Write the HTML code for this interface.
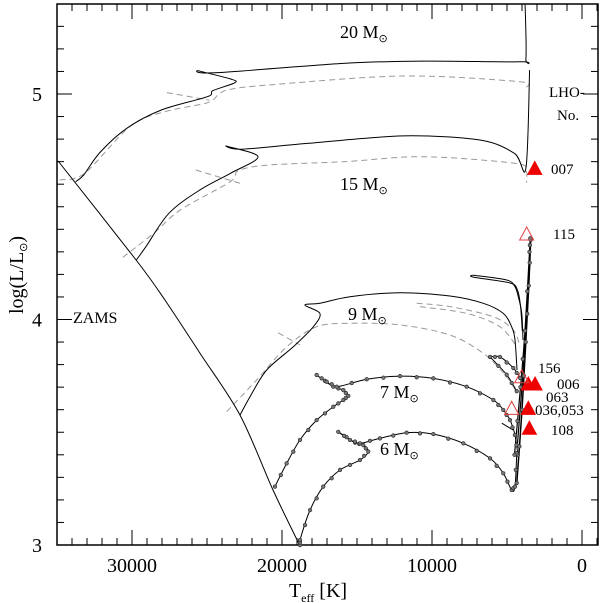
<!DOCTYPE html>
<html><head><meta charset="utf-8"><style>
html,body{margin:0;padding:0;background:#fff}
svg{display:block;font-family:"Liberation Serif",serif}
</style></head><body>
<svg id="c" width="600" height="603" viewBox="0 0 600 603"></svg>
<script>
const xTicks=[30000,20000,10000,0];
const xTickLabels=["30000","20000","10000","0"];
const yTicks=[3,4,5];
const yTickLabels=["3","4","5"];
const zams=[[34930,4.703],[29730,4.264],[27800,4.086],[25470,3.851],[22800,3.576],[20600,3.244],[18930,3.013],[18870,3.0]];
const m20=[[33760,4.611],[33220,4.641],[32150,4.740],[30350,4.848],[28050,4.929],[24980,4.988],[24600,5.015],[23140,5.050],[23450,5.067],[25550,5.103],[24470,5.094],[15770,5.136],[10650,5.146],[4120,5.143],[3740,5.158],[3790,5.396]];
const m20d=[[34830,4.619],[33170,4.648],[30100,4.858],[27800,4.922],[24980,4.961],[24200,5.0],[23500,5.02],[20890,5.040],[11930,5.080],[4250,5.055],[3690,5.030]];
const m20dx=[[27670,5.006],[24850,4.973]];
const m15=[[29710,4.264],[29070,4.323],[27540,4.471],[25490,4.574],[23450,4.648],[21600,4.722],[23700,4.769],[22680,4.755],[18330,4.781],[11930,4.814],[6810,4.796],[4510,4.737],[3740,4.671],[3490,5.106]];
const m15d=[[30610,4.276],[28560,4.382],[26770,4.486],[23450,4.611],[22900,4.66],[20890,4.685],[15770,4.700],[10650,4.722],[4510,4.693],[3740,4.663],[3690,4.607]];
const m15dx=[[25750,4.663],[22600,4.600]];
const m9=[[22800,3.576],[22130,3.658],[21020,3.776],[19250,3.879],[17910,3.968],[17470,4.027],[18470,4.064],[17470,4.072],[15470,4.101],[12130,4.119],[8800,4.104],[6580,4.072],[5250,4.027],[4690,3.968],[4470,3.909],[4330,3.776]];
const m9loopA=[[7290,4.197],[5020,4.175],[4470,4.145],[4250,4.101],[4020,4.029],[3930,3.909]];
const m9loopB=[[7290,4.197],[7250,4.188],[4800,4.162],[4300,4.13],[4100,4.06],[3980,3.95]];
const m9d=[[23690,3.591],[21690,3.732],[19690,3.879],[17690,3.968],[15470,3.983],[12130,3.976],[8800,3.931],[6580,3.850],[5020,3.746],[4350,3.673]];
const m9dx=[[20250,3.941],[18800,3.887]];
const m9d2=[[11020,4.072],[8800,4.057],[5910,4.012],[4580,3.953],[4130,3.879]];
const m9d3=[[10800,4.057],[7690,4.027],[5470,3.968],[4350,3.879]];
const m7=[[20470,3.259],[19690,3.362],[18800,3.466],[17690,3.554],[16580,3.613],[15910,3.643],[15580,3.661],[15910,3.687],[16580,3.702],[17690,3.754],[17020,3.724],[16350,3.702],[14350,3.735],[12130,3.749],[9910,3.739],[7690,3.702],[5910,3.643],[5250,3.599],[4800,3.554],[4470,3.488],[4270,3.399]];
const m7loop=[[6130,3.834],[5470,3.834],[4580,3.785],[4130,3.741]];
const m7loop2=[[6130,3.834],[5020,3.755],[4350,3.682]];
const m7loop3=[[5350,3.540],[4600,3.510]];
const m6=[[18800,3.0],[18800,3.022],[18130,3.155],[17250,3.259],[16130,3.333],[14800,3.377],[14250,3.414],[14580,3.443],[15130,3.454],[16250,3.502],[15470,3.466],[14800,3.451],[13470,3.473],[11690,3.498],[9910,3.492],[7910,3.451],[6130,3.384],[5250,3.318],[4690,3.244],[4470,3.259],[4350,3.407]];
const rgb1=[[4350,3.275],[4000,3.6],[3750,3.9],[3550,4.15],[3420,4.353]];
const rgb2=[[4500,3.4],[4100,3.7],[3800,3.95],[3500,4.3],[3450,4.36]];
const rgb3=[[4300,3.45],[3950,3.75],[3650,4.05],[3480,4.25]];
const starsFilled=[[3150,4.670],[3580,3.714],[3130,3.714],[3580,3.606],[3510,3.518]];
const starsOpen=[[3690,4.379],[4020,3.746],[4690,3.606]];

const S=document.getElementById('c');
const NS='http://www.w3.org/2000/svg';
const X0=57,X1=598,Y0=4,Y1=545;
function px(t){return 582-0.015*t;}
function py(l){return 545-225.5*(l-3);}
function mk(tag,a){const e=document.createElementNS(NS,tag);for(const k in a)e.setAttribute(k,a[k]);S.appendChild(e);return e;}
function smoothPath(data){
  const p=data.map(d=>[px(d[0]),py(d[1])]);
  let s='M'+p[0][0].toFixed(1)+','+p[0][1].toFixed(1);
  const k=0.16;
  for(let i=0;i<p.length-1;i++){
    const p0=p[i-1]||p[i],p1=p[i],p2=p[i+1],p3=p[i+2]||p[i+1];
    const c1=[p1[0]+(p2[0]-p0[0])*k,p1[1]+(p2[1]-p0[1])*k];
    const c2=[p2[0]-(p3[0]-p1[0])*k,p2[1]-(p3[1]-p1[1])*k];
    s+=' C'+c1[0].toFixed(1)+','+c1[1].toFixed(1)+' '+c2[0].toFixed(1)+','+c2[1].toFixed(1)+' '+p2[0].toFixed(1)+','+p2[1].toFixed(1);
  }
  return s;
}
function line(data,name,dash,col,w){
  const e=mk('path',{d:smoothPath(data),fill:'none',stroke:col||'#000','stroke-width':w||1});
  if(dash){e.setAttribute('stroke-dasharray','6,4');}
  
  
}
function dots(data,name){
  for(let i=0;i<data.length;i++){
    const pts=[[data[i][0],data[i][1]]];
    if(i<data.length-1){pts.push([(data[i][0]+data[i+1][0])/2,(data[i][1]+data[i+1][1])/2]);}
    for(const p of pts){
      const c=mk('circle',{cx:px(p[0]),cy:py(p[1]),r:1.8,fill:'#777',stroke:'#222','stroke-width':0.6});
      
      
    }
  }
}
const fr=mk('rect',{x:X0,y:Y0,width:X1-X0,height:Y1-Y0,fill:'none',stroke:'#000','stroke-width':1.5});


for(let t=35000;t>=-1000;t-=1000){
  const x=px(t);if(x<X0||x>X1)continue;
  const maj=(t%10000===0);const len=maj?15:7;
  mk('line',{x1:x,y1:Y1,x2:x,y2:Y1-len,stroke:'#000','stroke-width':1});
  mk('line',{x1:x,y1:Y0,x2:x,y2:Y0+len,stroke:'#000','stroke-width':1});
}
xTicks.forEach((t,i)=>{
  const e=mk('text',{x:px(t),y:572,'font-size':20,'text-anchor':'middle'});
  e.textContent=xTickLabels[i];
  
  
});
for(let k=0;k<=24;k++){
  const l=3+k*0.1;const y=py(l);if(y<Y0)continue;
  const maj=(k%10===0);const len=maj?15:7;
  mk('line',{x1:X0,y1:y,x2:X0+len,y2:y,stroke:'#000','stroke-width':1});
  mk('line',{x1:X1,y1:y,x2:X1-len,y2:y,stroke:'#000','stroke-width':1});
}
yTicks.forEach((l,i)=>{
  const e=mk('text',{x:37,y:py(l)+7,'font-size':20,'text-anchor':'middle'});
  e.textContent=yTickLabels[i];
  
  
});
[m20d,m20dx,m15d,m15dx,m9d,m9dx,m9d2,m9d3].forEach(d=>line(d,'dashed-track',true,'#999',1));
line(zams,'zams-line');
line(m20,'track-20msun');
line(m15,'track-15msun');
line(m9,'track-9msun');
line(m9loopA,'track-9msun-loop');
line(m9loopB,'track-9msun-loop');
line(m7,'track-7msun');line(m7loop,'track-7msun-loop');line(m7loop2,'track-7msun-loop');line(m7loop3,'track-7msun-loop');
line(m6,'track-6msun');
line(rgb1,'red-giant-branch',false,'#000',1.5);line(rgb2,'red-giant-branch',false,'#000',1.2);line(rgb3,'red-giant-branch',false,'#000',1.2);
dots(m7,'track-7msun-point');dots(m6,'track-6msun-point');
dots(rgb1,'rgb-point');dots(rgb2,'rgb-point');dots(m7loop,'rgb-point');dots(m7loop2,'rgb-point');
function tri(t,l,filled,name){
  const x=px(t),y=py(l);
  const e=mk('polygon',{points:`${x-7},${y+6} ${x+7},${y+6} ${x},${y-7}`,fill:filled?'#e00':'none',stroke:filled?'#e00':'#e04040','stroke-width':1});
  
  
}
starsFilled.forEach(s=>tri(s[0],s[1],true,'star-marker-filled'));
starsOpen.forEach(s=>tri(s[0],s[1],false,'star-marker-open'));
function txt(x,y,s,size,name,anchor){
  const e=mk('text',{x:x,y:y,'font-size':size,'text-anchor':anchor||'start'});
  e.innerHTML=s;
  
  
  return e;
}
const sun='M<tspan font-family="DejaVu Sans" font-size="11" dy="4">&#x2299;</tspan>';
txt(340,38,'20 '+sun,18,'label-20msun');
txt(340,190,'15 '+sun,18,'label-15msun');
txt(348,320,'9 '+sun,18,'label-9msun');
txt(380,398,'7 '+sun,18,'label-7msun');
txt(380,455,'6 '+sun,18,'label-6msun');
txt(73,323,'ZAMS',16,'label-zams');
txt(549,97,'LHO-',15,'label-lho');
txt(557,120,'No.',15,'label-no');
txt(551,174,'007',15,'label-007');
txt(553,239,'115',15,'label-115');
txt(538,373,'156',15,'label-156');
txt(557,389,'006',15,'label-006');
txt(546,402,'063',15,'label-063');
txt(535,415,'036,053',15,'label-036-053');
txt(551,435,'108',15,'label-108');
txt(318,597,'T<tspan font-size="12" dy="5">eff</tspan><tspan dy="-5"> [K]</tspan>',20,'x-axis-title','middle');
const yt=mk('text',{x:0,y:0,'font-size':20,'text-anchor':'middle',transform:'translate(23,275) rotate(-90)'});
yt.innerHTML='log(L/L<tspan font-family="DejaVu Sans" font-size="11" dy="4">&#x2299;</tspan><tspan dy="-4">)</tspan>';


</script>
</body></html>
